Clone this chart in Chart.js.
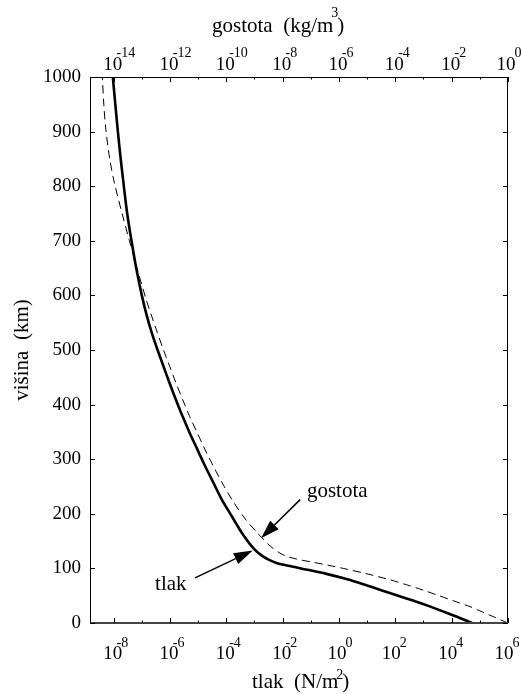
<!DOCTYPE html>
<html><head><meta charset="utf-8">
<script src="https://cdn.jsdelivr.net/npm/chart.js@4.4.0/dist/chart.umd.min.js"></script>
<style>html,body{margin:0;padding:0;background:#fff}#wrap{width:522px;height:694px;position:relative}</style>
</head><body><div id="wrap"><canvas id="c"></canvas></div>
<script>
// ---- data ----
const heightTicks = [0,100,200,300,400,500,600,700,800,900,1000];
const pressureExpTicks = [-8,-6,-4,-2,0,2,4,6];
const densityExpTicks = [-14,-12,-10,-8,-6,-4,-2,0];

// pressure (tlak), N/m^2 : heights (km) and log10 values
const pressureHeights = [0,10,20,30,40,50,60,70,80,90,100,105,110,116,122,128,134,145,165,195,226,257,287,318,348,378,409,440,470,500,532,562,600,650,704,750,805,850,905,1000];
const pressureExp = [4.72,4.25,3.75,3.25,2.7,2.1,1.5,0.92,0.3,-0.45,-1.35,-1.8,-2.22,-2.5,-2.7,-2.86,-2.98,-3.17,-3.45,-3.8,-4.16,-4.46,-4.75,-5.03,-5.3,-5.55,-5.79,-6.02,-6.23,-6.44,-6.65,-6.82,-7.0,-7.2,-7.38,-7.52,-7.65,-7.75,-7.86,-8.03];

// density (gostota), kg/m^3 : heights (km) and log10 values
const densityHeights = [0,10,20,30,40,50,60,70,80,90,100,106,112,117,122,128,140,152,165,192,226,257,287,318,348,378,409,440,470,500,532,562,593,650,700,750,805,850,905,950,1000];
const densityExp = [0.0,-0.45,-0.9,-1.35,-1.9,-2.45,-3.0,-3.6,-4.25,-5.0,-5.85,-6.4,-7.0,-7.5,-7.85,-8.1,-8.42,-8.66,-8.9,-9.35,-9.8,-10.15,-10.46,-10.76,-11.03,-11.3,-11.55,-11.79,-12.01,-12.23,-12.45,-12.65,-12.85,-13.17,-13.44,-13.7,-13.97,-14.14,-14.28,-14.35,-14.4];

const FONT = '"Liberation Serif","Times New Roman",serif';

const pressureData = pressureHeights.map((h,i)=>({x: Math.pow(10, pressureExp[i]), y: h}));
const densityData = densityHeights.map((h,i)=>({x: Math.pow(10, densityExp[i]), y: h}));

const annotations = [
  {text:'gostota', axis:'x2', textAt:[-7.14, 240], from:[-7.38, 226], to:[-8.77, 155]},
  {text:'tlak', axis:'x', textAt:[-6.53, 70], from:[-5.11, 82.6], to:[-3.06, 132.7]}
];

function line(ctx,x1,y1,x2,y2){ctx.beginPath();ctx.moveTo(x1,y1);ctx.lineTo(x2,y2);ctx.stroke();}
function arrow(ctx,x1,y1,x2,y2){
  const ang=Math.atan2(y2-y1,x2-x1), L=19, W=6;
  const bx=x2-L*Math.cos(ang), by=y2-L*Math.sin(ang);
  line(ctx,x1,y1,bx,by);
  ctx.beginPath();ctx.moveTo(x2,y2);
  ctx.lineTo(bx+W*Math.sin(ang),by-W*Math.cos(ang));
  ctx.lineTo(bx-W*Math.sin(ang),by+W*Math.cos(ang));
  ctx.closePath();ctx.fill();
}
function powLabel(ctx,tx,base10,baseExp,e){
  const big='19px '+FONT, small='14px '+FONT;
  ctx.font=big; const w10=ctx.measureText('10').width;
  const cx = e<0 ? tx-1 : (e===0 ? tx-2 : tx-4);
  const x10=cx-w10/2;
  ctx.textAlign='left'; ctx.textBaseline='alphabetic';
  ctx.fillText('10',x10,base10);
  ctx.font=small;
  const xd=x10+w10-1;
  ctx.fillText(String(Math.abs(e)),xd,baseExp);
  if(e<0){const wm=ctx.measureText('-').width; ctx.fillText('-',xd-wm,baseExp);}
}
function supTitle(ctx,x,base,main,sup,supBase,tail){
  ctx.textAlign='left'; ctx.textBaseline='alphabetic';
  ctx.font='21px '+FONT; ctx.fillText(main,x,base);
  let end=x+ctx.measureText(main).width;
  ctx.font='14px '+FONT; ctx.fillText(sup,end-2,supBase);
  end=end-2+ctx.measureText(sup).width;
  ctx.font='21px '+FONT; ctx.fillText(tail,end-1,base);
}

const overlay = {
  id:'overlay',
  afterDatasetsDraw(chart){
    const {ctx, chartArea:a, scales} = chart;
    const xs=scales.x, xt=scales.x2, ys=scales.y;
    ctx.save();
    ctx.fillStyle='#000'; ctx.strokeStyle='#000'; ctx.lineWidth=1;
    ctx.strokeRect(a.left+0.5,a.top+0.5,a.right-a.left-1,a.bottom-a.top-1);
    ctx.strokeStyle='#444'; ctx.lineWidth=2;
    line(ctx,a.left,a.bottom,a.right,a.bottom);
    ctx.strokeStyle='#000'; ctx.lineWidth=1;
    for(const v of heightTicks){
      const y=Math.round(ys.getPixelForValue(v))+0.5;
      line(ctx,a.left,y,a.left+5,y); line(ctx,a.right,y,a.right-5,y);
    }
    const logTicks=(scale,exps,y0,dir,base10,baseExp)=>{
      exps.forEach((e,i)=>{
        const x=Math.round(scale.getPixelForValue(Math.pow(10,e)))+0.5;
        line(ctx,x,y0,x,y0+dir*5);
        if(i<exps.length-1){
          const xm=Math.round(scale.getPixelForValue(Math.pow(10,e+1)))+0.5;
          line(ctx,xm,y0,xm,y0+dir*2.5);
        }
        powLabel(ctx,scale.getPixelForValue(Math.pow(10,e)),base10,baseExp,e);
      });
    };
    logTicks(xs,pressureExpTicks,a.bottom,-1,659,647);
    logTicks(xt,densityExpTicks,a.top,1,70,57);
    supTitle(ctx,212,32,'gostota  (kg/m','3',17,')');
    supTitle(ctx,252,688,'tlak  (N/m','2',679,')');
    ctx.lineWidth=1.5;
    for(const an of annotations){
      const sc=scales[an.axis];
      const px=v=>sc.getPixelForValue(Math.pow(10,v));
      ctx.font='21px '+FONT; ctx.textAlign='left'; ctx.textBaseline='middle';
      ctx.fillText(an.text,px(an.textAt[0]),ys.getPixelForValue(an.textAt[1]));
      arrow(ctx,px(an.from[0]),ys.getPixelForValue(an.from[1]),px(an.to[0]),ys.getPixelForValue(an.to[1]));
    }
    ctx.restore();
  }
};

new Chart(document.getElementById('c'),{
  type:'line',
  data:{datasets:[
    {label:'tlak',data:pressureData,xAxisID:'x',yAxisID:'y',borderColor:'#000',borderWidth:2.6,pointRadius:0,fill:false,tension:0.3},
    {label:'gostota',data:densityData,xAxisID:'x2',yAxisID:'y',borderColor:'#000',borderWidth:1,borderDash:[8,5],pointRadius:0,fill:false,tension:0.3}
  ]},
  options:{
    responsive:true, maintainAspectRatio:false, animation:false,
    layout:{padding:{left:0,right:14,top:0,bottom:0}},
    plugins:{legend:{display:false},tooltip:{enabled:false}},
    scales:{
      x:{type:'logarithmic',position:'bottom',min:Math.pow(10,-8.84),max:1e6,
         ticks:{display:false},grid:{display:false,drawTicks:false},border:{display:false},
         afterFit:s=>{s.height=71;}},
      x2:{type:'logarithmic',position:'top',min:Math.pow(10,-14.84),max:1,
         ticks:{display:false},grid:{display:false,drawTicks:false},border:{display:false},
         afterFit:s=>{s.height=77;}},
      y:{type:'linear',position:'left',min:0,max:1000,
         afterBuildTicks:s=>{s.ticks=heightTicks.map(v=>({value:v}));},
         ticks:{font:{family:FONT,size:19},color:'#000',padding:9,callback:v=>String(v)},
         grid:{display:false,drawTicks:false},border:{display:false},
         title:{display:true,text:'višina  (km)',color:'#000',font:{family:FONT,size:21},padding:{top:10,bottom:0}},
         afterFit:s=>{s.width=90;}}
    }
  },
  plugins:[overlay]
});
</script>
</body></html>
